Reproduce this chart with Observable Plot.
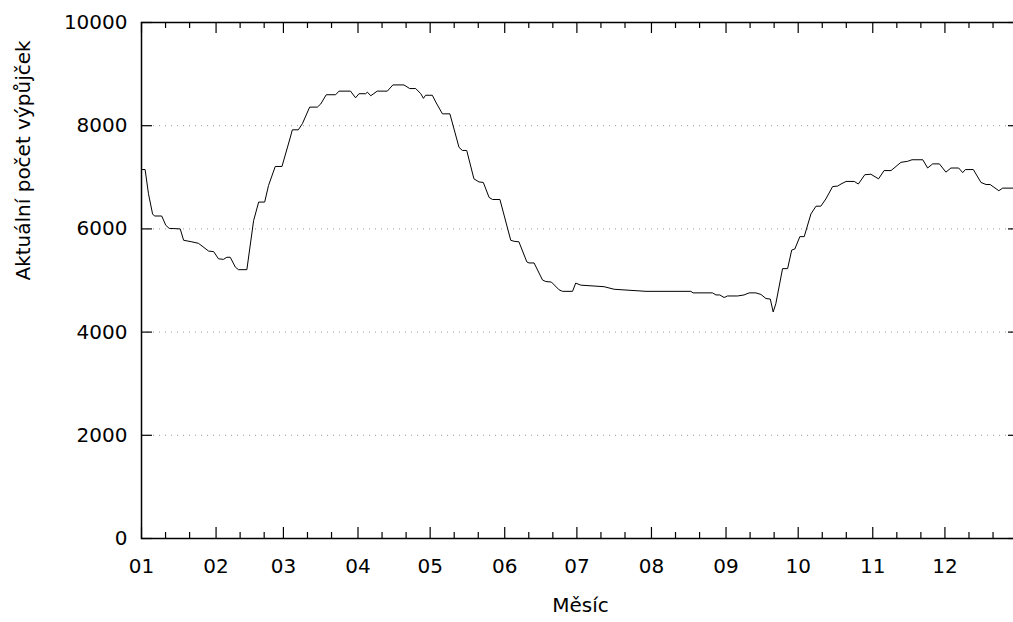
<!DOCTYPE html>
<html><head><meta charset="utf-8">
<style>html,body{margin:0;padding:0;overflow:hidden;background:#fff}</style>
<script src="https://cdn.jsdelivr.net/npm/d3@7"></script>
<script src="https://cdn.jsdelivr.net/npm/@observablehq/plot@0.6"></script>
</head><body><div id="chart"></div>
<script>
// day of year (0 = 1 January) and current number of loans
const den = [0,1.5,2.9,4.6,5.4,8.4,10.1,11.5,16.1,17.5,20.9,23.7,27.9,30.0,32.0,34.1,35.5,36.9,39.0,40.3,43.8,46.6,48.7,51.2,52.8,55.6,58.4,61.9,62.7,65.2,66.9,69.9,73.1,74.5,76.8,80.7,82.1,86.9,89.0,90.4,93.2,93.9,95.3,98.0,102.2,104.5,109.1,111.5,114.0,116.1,117.2,118.1,120.9,122.3,125.1,128.2,132.0,133.4,135.2,138.2,140.3,142.1,144.5,145.9,149.0,153.5,154.9,156.9,160.2,161.1,163.2,166.7,168.1,170.4,173.6,175.0,179.2,180.5,182.6,192.3,196.5,209.7,228.4,229.3,237.4,238.8,240.4,242.2,243.6,247.8,250.5,252.6,255.4,257.5,259.6,261.4,262.6,263.7,266.5,268.6,270.3,271.6,273.7,275.5,278.3,280.4,282.4,284.5,287.3,289.4,290.8,292.9,296.3,298.0,300.7,303.2,306.4,308.7,311.6,315.7,318.5,320.3,324.8,326.8,328.9,331.7,334.4,336.5,339.7,341.4,342.5,345.8,349.0,351.1,352.8,356.4,358.0,362.7,364.5];
const pocet = [7150,7150,6680,6290,6250,6250,6070,6010,6000,5780,5750,5720,5570,5560,5420,5410,5450,5450,5260,5210,5210,6160,6520,6520,6840,7210,7210,7780,7920,7920,8040,8360,8360,8420,8600,8600,8670,8670,8540,8620,8620,8650,8580,8670,8670,8790,8790,8720,8720,8620,8530,8590,8590,8460,8230,8230,7580,7520,7520,6970,6910,6900,6610,6570,6570,5780,5760,5750,5360,5340,5340,5010,4980,4970,4820,4790,4790,4950,4910,4880,4830,4790,4790,4760,4760,4720,4720,4670,4700,4700,4720,4760,4760,4730,4650,4640,4390,4550,5230,5230,5590,5610,5850,5850,6290,6440,6440,6580,6820,6830,6870,6920,6920,6870,7050,7060,6970,7130,7130,7290,7310,7340,7340,7180,7260,7260,7100,7180,7180,7090,7150,7150,6900,6860,6860,6740,6790,6790,6790];

const monthStartDays = [0,31,59,90,120,151,181,212,243,273,304,334];
const monthLabels = ["01","02","03","04","05","06","07","08","09","10","11","12"];
const minorOffsets = [10,20];
const yTicks = [0,2000,4000,6000,8000,10000];
const gridValues = [2000,4000,6000,8000];
const xTitle = "Měsíc";
const yTitle = "Aktuální počet výpůjček";

const xDomain = [0, 365];
const yDomain = [0, 10000];
const data = den.map((d,i)=>({den:d, pocet:pocet[i]}));
const minorDays = monthStartDays.flatMap(m => minorOffsets.map(o => m + o));
const labelOf = d => monthLabels[monthStartDays.indexOf(d)];
const MAJ = 11, MIN = 6;
const tk = {stroke: "#000", strokeWidth: 1.2};
const [x0, x1] = xDomain, [y0, y1] = yDomain;

const chart = Plot.plot({
  width: 1020, height: 622,
  marginLeft: 141, marginRight: 1, marginTop: 22, marginBottom: 84,
  style: {fontFamily: "'DejaVu Sans', Verdana, sans-serif", fontSize: "20px", color: "#000", background: "#fff", maxWidth: "none", overflow: "visible"},
  x: {domain: xDomain, label: null},
  y: {domain: yDomain, label: null},
  marks: [
    Plot.gridY(gridValues, {stroke: "#999", strokeOpacity: 1, strokeDasharray: "1,5"}),
    Plot.line(data, {x: "den", y: "pocet", stroke: "#000", strokeWidth: 1}),
    // inward ticks on all four sides
    Plot.ruleX(monthStartDays, {x: d => d, y1: y0, y2: y0, insetTop: -MAJ, ...tk}),
    Plot.ruleX(minorDays, {x: d => d, y1: y0, y2: y0, insetTop: -MIN, ...tk}),
    Plot.ruleX(monthStartDays, {x: d => d, y1: y1, y2: y1, insetBottom: -MAJ, ...tk}),
    Plot.ruleX(minorDays, {x: d => d, y1: y1, y2: y1, insetBottom: -MIN, ...tk}),
    Plot.ruleY(yTicks, {y: d => d, x1: x0, x2: x0, insetRight: -MAJ, ...tk}),
    Plot.ruleY(yTicks, {y: d => d, x1: x1, x2: x1, insetLeft: -MAJ, ...tk}),
    // tick labels
    Plot.axisX(monthStartDays, {anchor: "bottom", tickSize: 0, tickPadding: 20, tickFormat: labelOf, label: null, fontSize: 20, fill: "#000"}),
    Plot.axisY(yTicks, {anchor: "left", tickSize: 0, tickPadding: 14, tickFormat: d => String(d), label: null, fontSize: 20, fill: "#000"}),
    Plot.frame({stroke: "#000", strokeWidth: 1.5}),
    Plot.text([xTitle], {frameAnchor: "bottom", dy: 73, fontSize: 20, fill: "#000"}),
    Plot.text([yTitle], {frameAnchor: "left", rotate: -90, dx: -118, fontSize: 20, fill: "#000"})
  ]
});
document.getElementById("chart").appendChild(chart);
</script>
</body></html>
